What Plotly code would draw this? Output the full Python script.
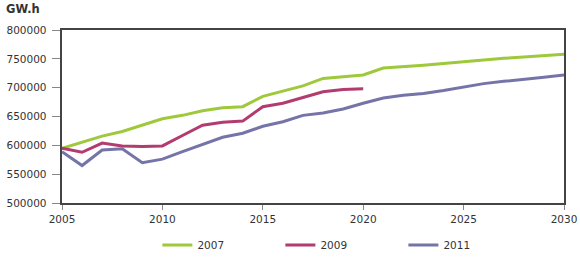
import plotly.graph_objects as go

years = list(range(2005, 2031))

s2007 = [595000, 605000, 616000, 624000, 635000, 646000, 652000, 660000, 665000, 667000,
         685000, 694000, 703000, 716000, 719000, 722000, 734000, 736000, 739000, 742000,
         745000, 749000, 751000, 753000, 755000, 758000]
s2009 = [595000, 588000, 604000, 599000, 598000, 599000, 617000, 635000, 640000, 642000,
         667000, 673000, 683000, 693000, 697000, 698000]
s2011 = [589000, 565000, 592000, 594000, 570000, 576000, 589000, 601000, 614000, 621000,
         633000, 641000, 652000, 656000, 663000, 673000, 682000, 687000, 690000, 695000,
         701000, 707000, 711000, 714000, 718000, 722000]

series = [("2007", s2007, "#9dc93b"), ("2009", s2009, "#b23b6f"), ("2011", s2011, "#7474a8")]

fig = go.Figure()
for name, vals, col in series:
    fig.add_trace(go.Scatter(x=years[:len(vals)], y=vals, name=name, mode="lines",
                             line=dict(color=col, width=3)))

fig.update_layout(
    width=580, height=264,
    margin=dict(l=62, r=16, t=30, b=61, autoexpand=False),
    paper_bgcolor="white", plot_bgcolor="white",
    font=dict(family="DejaVu Sans", size=10.5, color="#333333"),
    showlegend=True,
    legend=dict(orientation="h", x=0.19, xanchor="left", yref="container",
                y=0.072, yanchor="middle", font=dict(size=10.5),
                itemwidth=30, entrywidth=78),
    annotations=[dict(text="<b>GW.h</b>", x=0, y=1, xref="paper", yref="paper",
                      xshift=-58, yshift=12, xanchor="left", yanchor="bottom",
                      showarrow=False, font=dict(size=11.5, color="#333333"))],
)
fig.update_xaxes(range=[2005, 2030], dtick=5, tick0=2005, showgrid=False,
                 showline=True, linecolor="#444444", linewidth=2, mirror=True,
                 ticks="outside", ticklen=5, tickcolor="#888888", zeroline=False)
fig.update_yaxes(range=[500000, 800000], dtick=50000, showgrid=False,
                 showline=True, linecolor="#444444", linewidth=2, mirror=True,
                 ticks="outside", ticklen=8, tickcolor="#888888", zeroline=False,
                 tickformat="d", ticksuffix=" ")

# the page body has an 8px default margin; drop it so the figure fills the window
fig.write_html("out.html", config={"displayModeBar": False},
               post_script="document.body.style.margin='0';")
